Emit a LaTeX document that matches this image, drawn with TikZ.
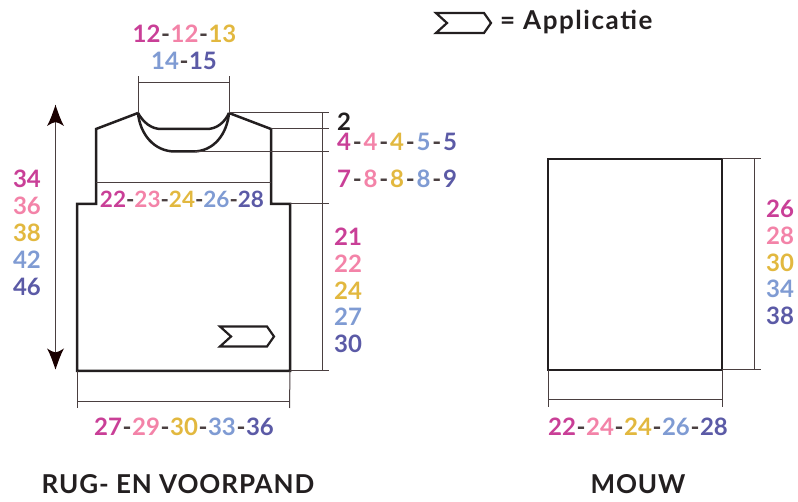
\documentclass[tikz,border=0pt]{standalone}
\usepackage{fontspec}
\setmainfont{Lato}[BoldFont={Lato Bold}]
\definecolor{cA}{HTML}{C93F97}
\definecolor{cB}{HTML}{F383A8}
\definecolor{cC}{HTML}{E2B83F}
\definecolor{cD}{HTML}{7F9BD3}
\definecolor{cE}{HTML}{5B5AA6}
\definecolor{ink}{HTML}{231F20}
\definecolor{dim}{HTML}{4A3F40}
\newcommand{\ca}[1]{\textcolor{cA}{#1}}
\newcommand{\cb}[1]{\textcolor{cB}{#1}}
\newcommand{\cc}[1]{\textcolor{cC}{#1}}
\newcommand{\cd}[1]{\textcolor{cD}{#1}}
\newcommand{\ce}[1]{\textcolor{cE}{#1}}
\newcommand{\dd}{\kern0.6pt\textcolor{dim}{-}\kern0.6pt}
\newcommand{\dw}{\kern1.8pt\textcolor{dim}{-}\kern1.8pt}
\newcommand{\dn}{\textcolor{dim}{-}}
\tikzset{
  x=1pt,y=-1pt,
  shape line/.style={draw=ink,line width=2.5pt,line join=miter},
  dimline/.style={draw=dim,line width=1pt},
  lab/.style={font=\fontsize{24}{24}\selectfont\bfseries,inner sep=0pt,anchor=center,text=ink},
  midlab/.style={font=\fontsize{22.5}{24}\selectfont\bfseries,inner sep=0pt,anchor=center,text=ink},
  capt/.style={font=\fontsize{26}{26}\selectfont\bfseries\addfontfeature{LetterSpace=3.5},inner sep=0pt,anchor=center,text=ink},
  applab/.style={font=\fontsize{26}{26}\selectfont\bfseries\addfontfeature{LetterSpace=6},inner sep=0pt,text=ink},
  appl/.style={draw=ink,line width=2.2pt,line join=miter},
}
\begin{document}
\begin{tikzpicture}
\useasboundingbox (0,0) rectangle (798,502);
% named points
\coordinate (nl) at (138,113);
\coordinate (nr) at (229,113);
\coordinate (sl) at (96,129);
\coordinate (sr) at (271,129);
\coordinate (al) at (96,204);
\coordinate (ar) at (271,204);
\coordinate (bl) at (77,371);
\coordinate (br) at (290,371);
% body
\draw[shape line] (nl) -- (sl) -- (al) -- (77,204) -- (bl) -- (br) -- (290,204) -- (ar) -- (sr) -- (nr);
\draw[shape line] (nl) .. controls (143,122) and (151,129) .. (161,129) -- (207,129) .. controls (217,129) and (225,122) .. (nr);
\draw[shape line] (nl) .. controls (140,134) and (154,151.5) .. (175,151.5) -- (193,151.5) .. controls (214,151.5) and (227,134) .. (nr);
\draw[dimline] (96,183) -- (271,183);
% neck dimension
\draw[dimline] (nl) -- (138,76);
\draw[dimline] (nr) -- (229,76);
\draw[dimline] (138,83) -- (229,83);
% right dimension
\draw[dimline] (nr) -- (329,113);
\draw[dimline] (sr) -- (329,129);
\draw[dimline] (195,151.5) -- (329,151.5);
\draw[dimline] (290,204) -- (329,204);
\draw[dimline] (br) -- (329,371);
\draw[dimline] (322,113) -- (322,371);
% bottom dimension
\draw[dimline] (bl) -- (77,408);
\draw[dimline] (br) -- (289.5,408);
\draw[dimline] (77,402) -- (289.5,402);
% long arrow
\coordinate (at) at (55.5,105);
\coordinate (ab) at (55.5,369.5);
\draw[dimline] (at) -- (ab);
\fill[black!90!red] (at) .. controls (58,112) and (60.5,120) .. (64,126) .. controls (61,124) and (58,122.5) .. (55.5,122) .. controls (53,122.5) and (50,124) .. (47,126) .. controls (50.5,120) and (53,112) .. (at) -- cycle;
\fill[black!90!red] (ab) .. controls (58,362.5) and (60.5,354.5) .. (64,348.5) .. controls (61,350.5) and (58,352) .. (55.5,352.5) .. controls (53,352) and (50,350.5) .. (47,348.5) .. controls (50.5,354.5) and (53,362.5) .. (ab) -- cycle;
% applique
\draw[appl] (220,326.5) -- (267,326.5) -- (274,336.5) -- (267,346.5) -- (220,346.5) -- (231,336.5) -- cycle;
\draw[appl] (436,13) -- (484,13) -- (491,23) -- (484,33) -- (436,33) -- (447,23) -- cycle;
% sleeve
\draw[shape line] (548,159) rectangle (722,370);
\draw[dimline] (722,159) -- (761,159);
\draw[dimline] (722,370) -- (761,370);
\draw[dimline] (754,159) -- (754,370);
\draw[dimline] (548,370) -- (548,407);
\draw[dimline] (722,370) -- (722,407);
\draw[dimline] (548,400) -- (722,400);
% labels
\node[lab] (t1) at (184.5,33.5) {\ca{12}\dd\cb{12}\dd\cc{13}};
\node[lab] (t2) at (184,60.5) {\cd{14}\dd\ce{15}};
\node[applab,anchor=west] (tap) at (500,22) {= Applicatie};
\node[lab] (r0) at (344,121.5) {2};
\node[lab,anchor=west] (r1) at (337,141.5) {\ca{4}\dw\cb{4}\dw\cc{4}\dw\cd{5}\dw\ce{5}};
\node[lab,anchor=west] (r2) at (337,178.5) {\ca{7}\dw\cb{8}\dw\cc{8}\dw\cd{8}\dw\ce{9}};
\node[midlab] (m) at (182,199) {\ca{22}\dn\cb{23}\dn\cc{24}\dn\cd{26}\dn\ce{28}};
\node[lab] (l1) at (27,178.5) {\ca{34}};
\node[lab] (l2) at (27,205.5) {\cb{36}};
\node[lab] (l3) at (27,232.5) {\cc{38}};
\node[lab] (l4) at (27,259.5) {\cd{42}};
\node[lab] (l5) at (27,286.5) {\ce{46}};
\node[lab] (c1) at (348,236.5) {\ca{21}};
\node[lab] (c2) at (348,263.5) {\cb{22}};
\node[lab] (c3) at (348,290.5) {\cc{24}};
\node[lab] (c4) at (348,316.5) {\cd{27}};
\node[lab] (c5) at (348,343.5) {\ce{30}};
\node[lab] (s1) at (780,209) {\ca{26}};
\node[lab] (s2) at (780,236) {\cb{28}};
\node[lab] (s3) at (780,262.5) {\cc{30}};
\node[lab] (s4) at (780,289) {\cd{34}};
\node[lab] (s5) at (780,316) {\ce{38}};
\node[lab] (b1) at (184,426.5) {\ca{27}\dd\cb{29}\dd\cc{30}\dd\cd{33}\dd\ce{36}};
\node[lab] (b2) at (638,426.5) {\ca{22}\dd\cb{24}\dd\cc{24}\dd\cd{26}\dd\ce{28}};
\node[capt] (cap1) at (178,484) {RUG- EN VOORPAND};
\node[capt] (cap2) at (638,484) {MOUW};
\end{tikzpicture}
\end{document}
